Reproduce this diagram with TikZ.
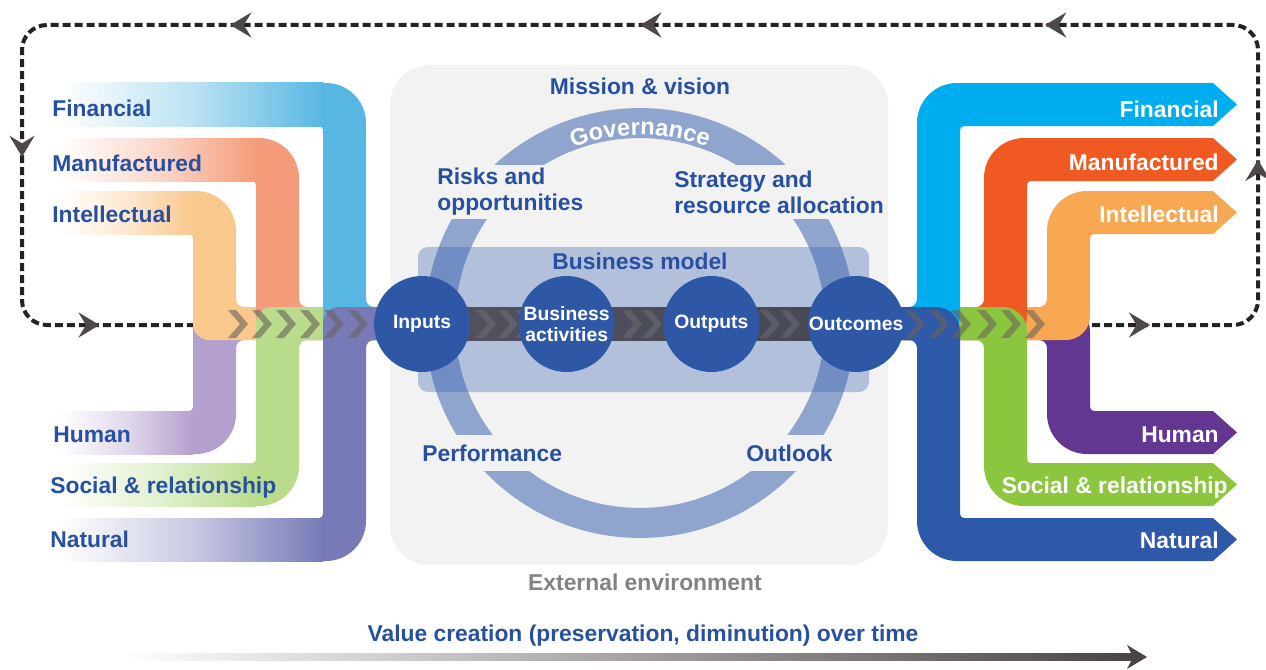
\documentclass[tikz,border=0pt]{standalone}
\usepackage{fontspec}
\setmainfont{Liberation Sans}
\usetikzlibrary{positioning,calc,arrows.meta,decorations.text,decorations.markings}

\definecolor{envgray}{RGB}{242,242,242}
\definecolor{ringblue}{RGB}{143,165,206}
\definecolor{modelblue}{RGB}{61,99,179}
\definecolor{stageblue}{RGB}{46,87,166}
\definecolor{capblue}{RGB}{40,80,160}
\definecolor{envtext}{RGB}{135,128,128}
\definecolor{loopblack}{RGB}{35,35,35}
\definecolor{headgray}{RGB}{80,72,72}
\definecolor{chevgray}{RGB}{105,98,92}
\definecolor{timegray}{RGB}{75,68,70}
\definecolor{finL}{RGB}{88,183,226}
\definecolor{manL}{RGB}{244,156,122}
\definecolor{intL}{RGB}{249,200,140}
\definecolor{humL}{RGB}{180,160,206}
\definecolor{socL}{RGB}{185,220,140}
\definecolor{natL}{RGB}{120,122,184}
\definecolor{finR}{RGB}{0,174,239}
\definecolor{manR}{RGB}{240,90,34}
\definecolor{intR}{RGB}{248,168,82}
\definecolor{humR}{RGB}{99,54,145}
\definecolor{socR}{RGB}{140,198,63}
\definecolor{natR}{RGB}{46,89,168}

% capital flows: #1 colour, #2 top of the row, #3 left side of the column
\newcommand{\inflowtop}[3]{%
  \fill[#1] (60,#2) -- (#3+3,#2) arc[start angle=90,end angle=0,radius=0.8cm]
    -- (#3+43,299) arc[start angle=180,end angle=270,radius=0.16cm]
    -- (430,307) -- (430,340) -- (#3+16,340) arc[start angle=270,end angle=180,radius=0.32cm]
    -- (#3,#2+47) arc[start angle=0,end angle=90,radius=0.08cm] -- (60,#2+43) -- cycle;
  \fill[fadein=#1] (60,#2) rectangle (#3,#2+43);}
\newcommand{\inflowbot}[3]{%
  \fill[#1] (60,#2) -- (#3-4,#2) arc[start angle=270,end angle=360,radius=0.08cm]
    -- (#3,323) arc[start angle=180,end angle=90,radius=0.32cm]
    -- (430,307) -- (430,340) -- (#3+51,340) arc[start angle=90,end angle=180,radius=0.16cm]
    -- (#3+43,#2+3) arc[start angle=0,end angle=-90,radius=0.8cm] -- (60,#2+43) -- cycle;
  \fill[fadein=#1] (60,#2) rectangle (#3,#2+43);}
\newcommand{\outflowtop}[3]{%
  \fill[#1] (850,307) -- (#3-8,307) arc[start angle=270,end angle=360,radius=0.16cm]
    -- (#3,#2+40) arc[start angle=180,end angle=90,radius=0.8cm]
    -- (1213,#2) -- (1237,#2+21.5) -- (1213,#2+43)
    -- (#3+47,#2+43) arc[start angle=90,end angle=180,radius=0.08cm]
    -- (#3+43,316) arc[start angle=0,end angle=-90,radius=0.48cm] -- (850,340) -- cycle;}
\newcommand{\outflowbot}[3]{%
  \fill[#1] (850,307) -- (#3+19,307) arc[start angle=90,end angle=0,radius=0.48cm]
    -- (#3+43,#2-4) arc[start angle=180,end angle=270,radius=0.08cm]
    -- (1213,#2) -- (1237,#2+21.5) -- (1213,#2+43)
    -- (#3+40,#2+43) arc[start angle=270,end angle=180,radius=0.8cm]
    -- (#3,348) arc[start angle=0,end angle=90,radius=0.16cm] -- (850,340) -- cycle;}
\newcommand{\chev}[2][chevron]{%
  \fill[#1] (#2,310) -- (#2+8,310) -- (#2+20,324) -- (#2+8,338) -- (#2,338) -- (#2+12,324) -- cycle;}

\begin{document}
\begin{tikzpicture}[x=0.02cm,y=-0.02cm,
  stage/.style={circle,fill=stageblue,minimum size=1.92cm,inner sep=0pt,text=white,align=center,
    font=\bfseries\fontsize{11}{12}\selectfont},
  caplabel/.style={text=capblue,inner sep=0pt,font=\bfseries\fontsize{13}{14.8}\selectfont},
  ringlabel/.style={caplabel,fill=envgray,align=left,anchor=west,minimum height=1.08cm},
  inlabel/.style={caplabel,anchor=base west},
  outlabel/.style={caplabel,text=white,anchor=base east},
  fadein/.style={left color=white,right color=#1,middle color=#1!40!white},
  chevron/.style={fill=chevgray,fill opacity=0.6},
  corechev/.style={fill=gray,fill opacity=0.35},
  loopline/.style={draw=loopblack,line width=0.08cm,dash pattern=on 0.16cm off 0.08cm,rounded corners=0.5cm},
  loophead/.tip={Stealth[length=0.42cm,width=0.5cm,inset=0.15cm,color=headgray]}]

\useasboundingbox (0,0) rectangle (1266,669);

\fill[envgray,rounded corners=0.8cm] (390,65) rectangle (888,565);
\draw[ringblue,line width=0.6cm] (640,323) circle[radius=4cm];
\path[decorate,decoration={text along path,text align=center,
  text={|\bfseries\fontsize{13.5}{15}\selectfont\color{white}|Governance}}]
  (640,323) ++(135:3.76cm) arc[start angle=135,end angle=45,radius=3.76cm];

\node[caplabel] (mission) at (640,86) {Mission \& vision};
\node[ringlabel] (risks) at (437,192) {Risks and\\opportunities};
\node[ringlabel] (strategy) at (674,192) {Strategy and\\resource allocation};
\node[ringlabel,minimum height=0.72cm] (performance) at (422,453) {Performance};
\node[ringlabel,minimum height=0.72cm] (outlook) at (746,453) {Outlook};
\node[caplabel,text=envtext] (environment) at (645,582) {External environment};

\fill[modelblue,fill opacity=0.35,rounded corners=0.2cm] (418,247) rectangle (869,392);
\node[caplabel] (model) at (640,261) {Business model};

\draw[loopline,postaction={decorate},decoration={markings,
  mark=at position 1.16cm with {\arrow{loophead}},
  mark=at position 6.41cm with {\arrow{loophead}},
  mark=at position 13.15cm with {\arrow{loophead}},
  mark=at position 21.25cm with {\arrow{loophead}},
  mark=at position 29.45cm with {\arrow{loophead}},
  mark=at position 36.04cm with {\arrow{loophead}},
  mark=at position 40.74cm with {\arrow{loophead}}}]
  (1092,325) -- (1258,325) -- (1258,25) -- (22,25) -- (22,325) -- (196,325);

\inflowbot{humL}{411}{193}
\inflowtop{intL}{191}{193}
\inflowtop{manL}{138}{256}
\inflowbot{socL}{463}{256}
\inflowtop{finL}{83}{323}
\inflowbot{natL}{518}{323}

\outflowbot{humR}{411}{1047}
\outflowtop{intR}{191}{1047}
\outflowtop{manR}{138}{984}
\outflowbot{socR}{463}{984}
\outflowtop{finR}{83}{917}
\outflowbot{natR}{518}{917}

\fill[left color={rgb,255:red,82;green,82;blue,95},middle color={rgb,255:red,45;green,45;blue,45},
  right color={rgb,255:red,70;green,72;blue,86}] (422,307) rectangle (855,340);

\foreach \x in {228,252,276,300,324,348,905,929,951,977,1001,1025} {\chev{\x}}
\foreach \x in {476,498,516,622,642,760,780} {\chev[corechev]{\x}}

\node[stage] (inputs) at (422,324) {Inputs};
\node[stage,right=0.96cm of inputs] (activities) {Business\\activities};
\node[stage,right=0.96cm of activities] (outputs) {Outputs};
\node[stage,right=0.96cm of outputs] (outcomes) {Outcomes};

\node[inlabel] (finin) at (52,116) {Financial};
\node[inlabel] (manin) at (52,171) {Manufactured};
\node[inlabel] (intin) at (52,222) {Intellectual};
\node[inlabel] (humin) at (53,442) {Human};
\node[inlabel] (socin) at (50,493) {Social \& relationship};
\node[inlabel] (natin) at (50,547) {Natural};

\node[outlabel] (finout) at (1219,117) {Financial};
\node[outlabel] (manout) at (1219,170) {Manufactured};
\node[outlabel] (intout) at (1219,222) {Intellectual};
\node[outlabel] (humout) at (1219,442) {Human};
\node[outlabel] (socout) at (1228,493) {Social \& relationship};
\node[outlabel] (natout) at (1219,548) {Natural};

\fill[left color=white,right color=timegray] (120,653.5) rectangle (1133,660.5);
\fill[timegray] (1127,645) -- (1147,657) -- (1127,669) -- (1133,657) -- cycle;
\node[caplabel] (valuetime) at (643,636) {Value creation (preservation, diminution) over time};

\end{tikzpicture}
\end{document}
